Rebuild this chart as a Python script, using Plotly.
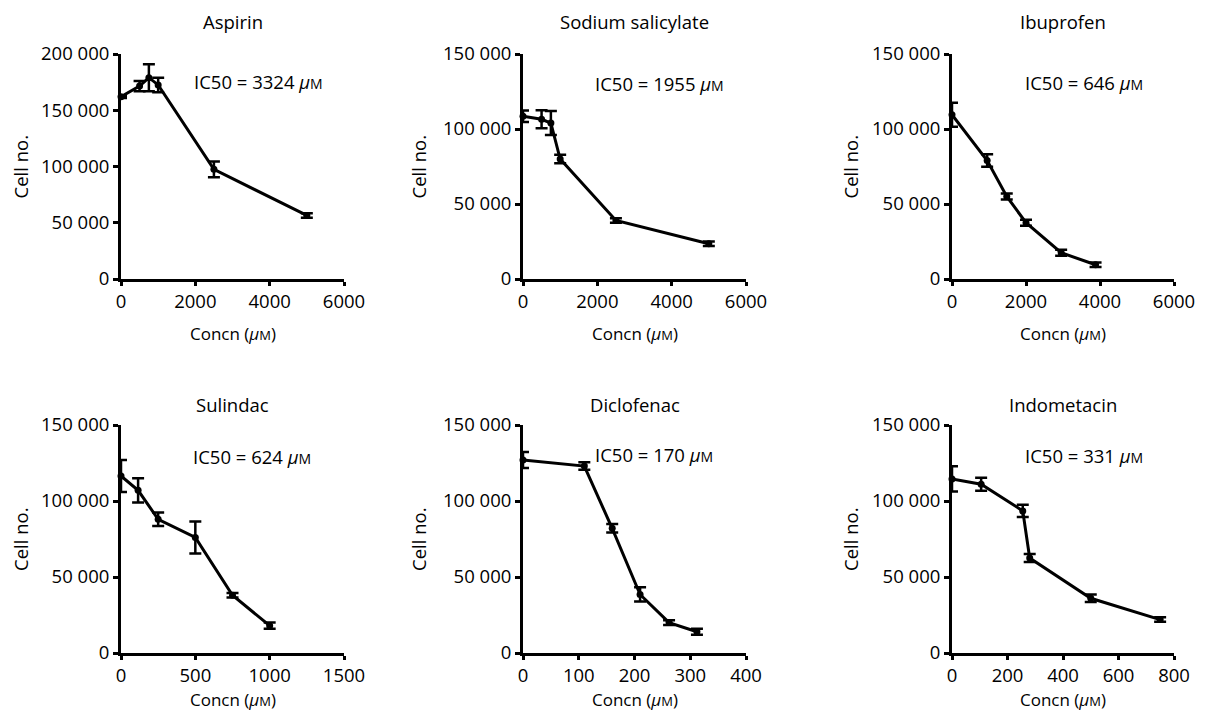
import plotly.graph_objects as go

# ---- data ----
drugs = ["Aspirin", "Sodium salicylate", "Ibuprofen", "Sulindac", "Diclofenac", "Indometacin"]
ic50_values = [3324, 1955, 646, 624, 170, 331]

aspirin_x = [0, 500, 750, 1000, 2500, 5000]
aspirin_y = [162000, 171500, 179000, 172500, 97500, 56500]
aspirin_err = [1000, 4500, 12000, 6500, 7000, 2000]

salicylate_x = [0, 500, 750, 1000, 2500, 5000]
salicylate_y = [108500, 106500, 104000, 80000, 39000, 23500]
salicylate_err = [3800, 6000, 8000, 2800, 1500, 1500]

ibuprofen_x = [0, 950, 1480, 2000, 2950, 3880]
ibuprofen_y = [109500, 79000, 55000, 37500, 17500, 9500]
ibuprofen_err = [8000, 4200, 2000, 2000, 2000, 1500]

sulindac_x = [0, 115, 250, 500, 750, 1000]
sulindac_y = [116500, 107000, 88000, 76000, 38000, 18000]
sulindac_err = [10500, 8000, 4500, 10500, 1500, 2000]

diclofenac_x = [0, 110, 160, 210, 262, 312]
diclofenac_y = [127000, 123000, 82000, 38500, 20000, 14000]
diclofenac_err = [5300, 2500, 2800, 4700, 1500, 2000]

indometacin_x = [0, 105, 255, 280, 500, 750]
indometacin_y = [114500, 111000, 93500, 62500, 36000, 22000]
indometacin_err = [8300, 4300, 4000, 2600, 2500, 1500]

x_ranges = [6000, 6000, 6000, 1500, 400, 800]
x_dticks = [2000, 2000, 2000, 500, 100, 200]
y_ranges = [200000, 150000, 150000, 150000, 150000, 150000]
y_dtick = 50000

x_title = "Concn"
y_title = "Cell no."

series = [
    (aspirin_x, aspirin_y, aspirin_err),
    (salicylate_x, salicylate_y, salicylate_err),
    (ibuprofen_x, ibuprofen_y, ibuprofen_err),
    (sulindac_x, sulindac_y, sulindac_err),
    (diclofenac_x, diclofenac_y, diclofenac_err),
    (indometacin_x, indometacin_y, indometacin_err),
]

# ---- layout geometry (pixels in the 1206x719 window; page body has 8px margin) ----
OFF = 8
W, H = 1206 - 2 * OFF, 719 - 2 * OFF
col_px = [(121, 344), (523, 746), (952, 1174)]
row_px = [(54, 279), (425, 653)]
title_y_px = [22, 404]
xtitle_y_px = [333, 699]
ytitle_x_px = [20, 418, 850]

def px_x(p):
    return (p - OFF) / W

def px_y(p):
    return 1 - (p - OFF) / H

FONT = "Open Sans, Noto Sans, Liberation Sans, sans-serif"
FS = 18.5
FS_XT = 17
UM = "<i>μ</i><span style='font-size:14px'>M</span>"
UM_XT = "<i>μ</i><span style='font-size:13px'>M</span>"

fig = go.Figure()
annotations = []
layout_axes = {}

for i, (name, (xs, ys, es)) in enumerate(zip(drugs, series)):
    r, c = divmod(i, 3)
    n = i + 1
    xa = "x" if n == 1 else f"x{n}"
    ya = "y" if n == 1 else f"y{n}"
    fig.add_trace(go.Scatter(
        x=xs, y=ys, xaxis=xa, yaxis=ya, mode="lines+markers",
        line=dict(color="black", width=3),
        marker=dict(color="black", size=7),
        error_y=dict(type="data", array=es, visible=True, color="black",
                     thickness=2.5, width=6),
        cliponaxis=False, showlegend=False,
    ))
    x0, x1 = col_px[c]
    yt, yb = row_px[r]
    xdom = [px_x(x0), px_x(x1)]
    ydom = [px_y(yb), px_y(yt)]
    xkey = "xaxis" if n == 1 else f"xaxis{n}"
    ykey = "yaxis" if n == 1 else f"yaxis{n}"
    layout_axes[xkey] = dict(
        domain=xdom, anchor=ya, range=[0, x_ranges[i]], dtick=x_dticks[i], tick0=0,
        showline=True, linecolor="black", linewidth=3, ticks="outside",
        ticklen=4, tickwidth=3, tickcolor="black", showgrid=False, zeroline=False,
        automargin=False,
        tickformat="d", tickfont=dict(size=FS, color="black"),
    )
    layout_axes[ykey] = dict(
        domain=ydom, anchor=xa, range=[0, y_ranges[i]], dtick=y_dtick, tick0=0,
        showline=True, linecolor="black", linewidth=3, ticks="outside",
        ticklen=5, tickwidth=3, tickcolor="black", showgrid=False, zeroline=False,
        automargin=False,
        tickformat=",d", tickfont=dict(size=FS, color="black"),
    )
    # panel title
    annotations.append(dict(
        text=name, xref="paper", yref="paper", x=px_x((x0 + x1) / 2),
        y=px_y(title_y_px[r]), showarrow=False,
        font=dict(size=FS, color="black"), xanchor="center", yanchor="middle"))
    # x-axis title
    annotations.append(dict(
        text=x_title + " (" + UM_XT + ")", xref="paper", yref="paper",
        x=px_x((x0 + x1) / 2), y=px_y(xtitle_y_px[r]), showarrow=False,
        font=dict(size=FS_XT, color="black"), xanchor="center", yanchor="middle",
        borderpad=0))
    # y-axis title
    annotations.append(dict(
        text=y_title, xref="paper", yref="paper", textangle=-90,
        x=px_x(ytitle_x_px[c]), y=px_y((yt + yb) / 2), showarrow=False,
        font=dict(size=FS, color="black"), xanchor="center", yanchor="middle",
        borderpad=0))
    # IC50 label
    ic_x = [192, 593, 1023, 191, 593, 1023][i]
    ic_y = [81, 83, 82, 456, 454, 455][i]
    annotations.append(dict(
        text=f"IC50 = {ic50_values[i]} " + UM, xref="paper", yref="paper",
        x=px_x(ic_x), y=px_y(ic_y), showarrow=False, xanchor="left", yanchor="middle",
        font=dict(size=FS, color="black")))

fig.update_layout(
    width=W, height=H, margin=dict(l=0, r=0, t=0, b=0),
    paper_bgcolor="white", plot_bgcolor="white",
    font=dict(family=FONT, color="black", size=FS),
    separators=". ",
    annotations=annotations,
    **layout_axes,
)

fig.write_html("out.html")
